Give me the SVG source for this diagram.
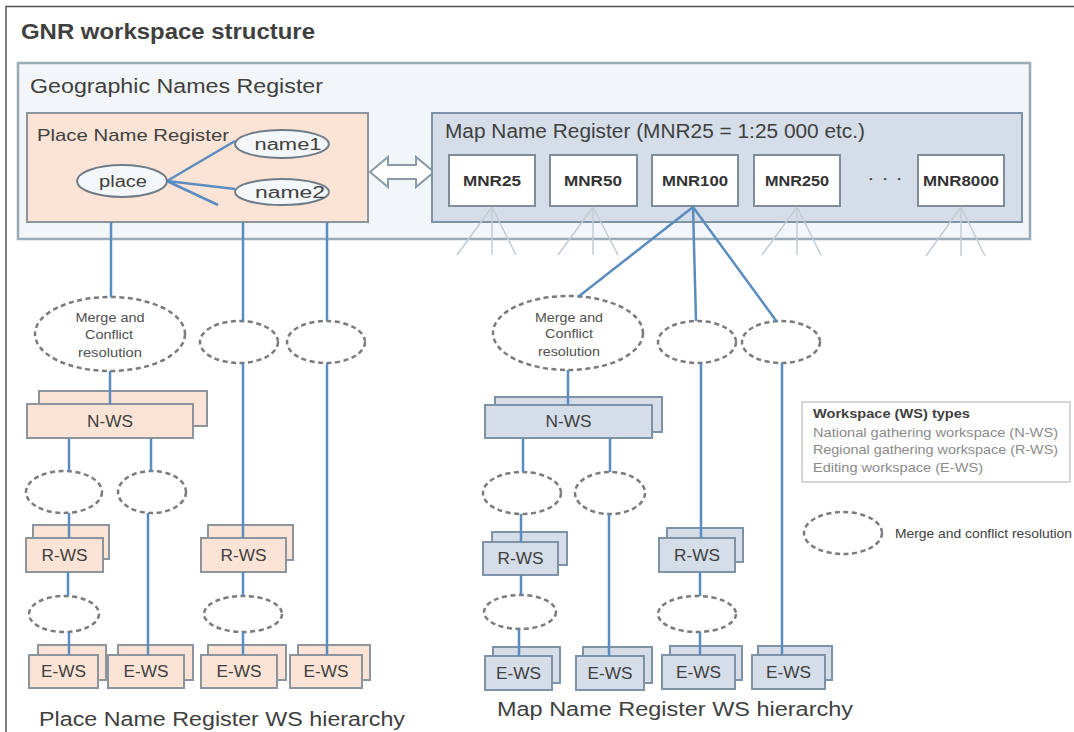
<svg xmlns="http://www.w3.org/2000/svg" width="1074" height="732" viewBox="0 0 1074 732">
<style>
.t{font-family:'Liberation Sans',Arial,sans-serif;fill:#404040}
.ln{stroke:#5b8cbf;stroke-width:2.5;fill:none}
.fan{stroke:#c3cbd3;stroke-width:1.5;fill:none}
.dash{fill:#ffffff;stroke:#7b7b7b;stroke-width:2.5;stroke-dasharray:5 3.5}
.pk{fill:#fbe4d5;stroke:#8c959d;stroke-width:2}
.bl{fill:#d5dde8;stroke:#7f93a6;stroke-width:2}
.mnr{fill:#ffffff;stroke:#7f8c99;stroke-width:2}
.ov{fill:#f4f7fa;stroke:#6f7c88;stroke-width:2}
.lbl{font-size:16px;text-anchor:middle}
.mc{font-size:13px;text-anchor:middle;fill:#505050}
.mn{font-size:15px;font-weight:bold;text-anchor:middle;fill:#333}
.lg{font-size:13px;fill:#8a8a8a}
</style>
<rect x="0" y="0" width="1074" height="732" fill="#ffffff"/>
<path d="M6 740 V6.5 H1074" fill="none" stroke="#555" stroke-width="1.5"/>
<text class="t" x="21" y="39" font-size="22" font-weight="bold" fill="#222" textLength="294" lengthAdjust="spacingAndGlyphs">GNR workspace structure</text>

<g id="gnr">
<rect x="18" y="63" width="1012" height="176" fill="#f3f6f9" stroke="#9aabb8" stroke-width="2.5"/>
<text class="t" x="30" y="93" font-size="20" textLength="293" lengthAdjust="spacingAndGlyphs">Geographic Names Register</text>
</g>

<g id="pnr">
<rect class="pk" x="27" y="113" width="341" height="109"/>
<text class="t" x="37" y="141" font-size="17" textLength="192" lengthAdjust="spacingAndGlyphs">Place Name Register</text>
<line x1="167" y1="181" x2="235" y2="141" class="ln" stroke-width="2"/>
<line x1="167" y1="181" x2="235" y2="189" class="ln" stroke-width="2"/>
<line x1="167" y1="181" x2="218" y2="205" class="ln" stroke-width="2"/>
</g>
<g id="place"><ellipse class="ov" cx="122" cy="181" rx="45" ry="16"/><text class="t lbl" x="123" y="187" font-size="17" textLength="48" lengthAdjust="spacingAndGlyphs">place</text></g>
<g id="name1"><ellipse class="ov" cx="282" cy="144" rx="47" ry="14"/><text class="t lbl" x="288" y="150" font-size="17" textLength="67" lengthAdjust="spacingAndGlyphs">name1</text></g>
<g id="name2"><ellipse class="ov" cx="282" cy="192" rx="47" ry="13"/><text class="t lbl" x="290" y="198" font-size="17" textLength="70" lengthAdjust="spacingAndGlyphs">name2</text></g>

<g id="arrow">
<polygon points="370,172 388,157 388,165 416,165 416,157 434,172 416,187 416,179 388,179 388,187" fill="#ffffff" stroke="#8a9aa8" stroke-width="2"/>
</g>

<g id="mnr">
<rect class="bl" x="432" y="113" width="590" height="109" fill="#d9dfe7"/>
<text class="t" x="445" y="138" font-size="20" textLength="420" lengthAdjust="spacingAndGlyphs">Map Name Register (MNR25 = 1:25 000 etc.)</text>
<text class="t" x="867" y="184" font-size="16" fill="#999" textLength="36" lengthAdjust="spacingAndGlyphs">· · ·</text>
</g>
<g id="mnr25"><rect class="mnr" x="449" y="155" width="86" height="51"/><text class="t mn" x="492" y="186" textLength="58" lengthAdjust="spacingAndGlyphs">MNR25</text></g>
<g id="mnr50"><rect class="mnr" x="550" y="155" width="87" height="51"/><text class="t mn" x="593" y="186" textLength="58" lengthAdjust="spacingAndGlyphs">MNR50</text></g>
<g id="mnr100"><rect class="mnr" x="652" y="155" width="86" height="51"/><text class="t mn" x="695" y="186" textLength="66" lengthAdjust="spacingAndGlyphs">MNR100</text></g>
<g id="mnr250"><rect class="mnr" x="754" y="155" width="86" height="51"/><text class="t mn" x="797" y="186" textLength="64" lengthAdjust="spacingAndGlyphs">MNR250</text></g>
<g id="mnr8000"><rect class="mnr" x="918" y="155" width="86" height="51"/><text class="t mn" x="961" y="186" textLength="76" lengthAdjust="spacingAndGlyphs">MNR8000</text></g>

<!-- Left hierarchy -->
<g id="l-merge"><ellipse class="dash" cx="110" cy="334" rx="75" ry="37"/>
<text class="t mc" x="110" y="322" textLength="69" lengthAdjust="spacingAndGlyphs">Merge and</text>
<text class="t mc" x="109" y="339" textLength="48" lengthAdjust="spacingAndGlyphs">Conflict</text>
<text class="t mc" x="110" y="357" textLength="64" lengthAdjust="spacingAndGlyphs">resolution</text></g>
<g id="l-m2"><ellipse class="dash" cx="239" cy="342" rx="39" ry="21"/></g>
<g id="l-m3"><ellipse class="dash" cx="326" cy="342" rx="39" ry="21"/></g>
<g id="l-nws"><rect class="pk" x="39" y="391" width="168" height="35"/><rect class="pk" x="27" y="404" width="166" height="34"/><text class="t lbl" x="110" y="427" textLength="46" lengthAdjust="spacingAndGlyphs">N-WS</text></g>
<g id="l-m4"><ellipse class="dash" cx="64" cy="492" rx="38" ry="21"/></g>
<g id="l-m5"><ellipse class="dash" cx="152" cy="492" rx="34" ry="21"/></g>
<g id="l-rws1"><rect class="pk" x="33" y="525" width="76" height="34"/><rect class="pk" x="26" y="538" width="77" height="34"/><text class="t lbl" x="64.5" y="561" textLength="46" lengthAdjust="spacingAndGlyphs">R-WS</text></g>
<g id="l-rws2"><rect class="pk" x="208" y="525" width="85" height="35"/><rect class="pk" x="201" y="538" width="85" height="34"/><text class="t lbl" x="243.5" y="561" textLength="46" lengthAdjust="spacingAndGlyphs">R-WS</text></g>
<g id="l-m6"><ellipse class="dash" cx="64" cy="614" rx="35" ry="18"/></g>
<g id="l-m7"><ellipse class="dash" cx="243" cy="614" rx="39" ry="18"/></g>
<g id="l-ews1"><rect class="pk" x="38" y="645" width="68" height="35"/><rect class="pk" x="29" y="655" width="69" height="33"/><text class="t lbl" x="63.5" y="677" textLength="45" lengthAdjust="spacingAndGlyphs">E-WS</text></g>
<g id="l-ews2"><rect class="pk" x="118" y="645" width="75" height="35"/><rect class="pk" x="108" y="655" width="76" height="33"/><text class="t lbl" x="146" y="677" textLength="45" lengthAdjust="spacingAndGlyphs">E-WS</text></g>
<g id="l-ews3"><rect class="pk" x="208" y="645" width="78" height="35"/><rect class="pk" x="201" y="655" width="76" height="33"/><text class="t lbl" x="239" y="677" textLength="45" lengthAdjust="spacingAndGlyphs">E-WS</text></g>
<g id="l-ews4"><rect class="pk" x="298" y="645" width="72" height="35"/><rect class="pk" x="290" y="655" width="72" height="33"/><text class="t lbl" x="326" y="677" textLength="45" lengthAdjust="spacingAndGlyphs">E-WS</text></g>
<text class="t" x="39" y="726" font-size="20" fill="#333" textLength="366" lengthAdjust="spacingAndGlyphs">Place Name Register WS hierarchy</text>

<!-- Right hierarchy -->
<g id="r-merge"><ellipse class="dash" cx="568" cy="333" rx="75" ry="37"/>
<text class="t mc" x="569" y="322" textLength="68" lengthAdjust="spacingAndGlyphs">Merge and</text>
<text class="t mc" x="569" y="338" textLength="48" lengthAdjust="spacingAndGlyphs">Conflict</text>
<text class="t mc" x="569" y="356" textLength="62" lengthAdjust="spacingAndGlyphs">resolution</text></g>
<g id="r-m2"><ellipse class="dash" cx="697" cy="342" rx="39" ry="21"/></g>
<g id="r-m3"><ellipse class="dash" cx="781" cy="342" rx="39" ry="21"/></g>
<g id="r-nws"><rect class="bl" x="495" y="397" width="167" height="35"/><rect class="bl" x="485" y="405" width="167" height="33"/><text class="t lbl" x="568.5" y="427" textLength="46" lengthAdjust="spacingAndGlyphs">N-WS</text></g>
<g id="r-m4"><ellipse class="dash" cx="522" cy="493" rx="39" ry="21"/></g>
<g id="r-m5"><ellipse class="dash" cx="610" cy="493" rx="35" ry="21"/></g>
<g id="r-rws1"><rect class="bl" x="492" y="532" width="75" height="33"/><rect class="bl" x="483" y="542" width="75" height="33"/><text class="t lbl" x="520.5" y="564" textLength="46" lengthAdjust="spacingAndGlyphs">R-WS</text></g>
<g id="r-rws2"><rect class="bl" x="667" y="528" width="76" height="34"/><rect class="bl" x="659" y="538" width="76" height="34"/><text class="t lbl" x="697" y="561" textLength="46" lengthAdjust="spacingAndGlyphs">R-WS</text></g>
<g id="r-m6"><ellipse class="dash" cx="520" cy="612" rx="36" ry="17"/></g>
<g id="r-m7"><ellipse class="dash" cx="697" cy="614" rx="39" ry="18"/></g>
<g id="r-ews1"><rect class="bl" x="493" y="647" width="67" height="36"/><rect class="bl" x="485" y="656" width="67" height="34"/><text class="t lbl" x="518.5" y="679" textLength="45" lengthAdjust="spacingAndGlyphs">E-WS</text></g>
<g id="r-ews2"><rect class="bl" x="583" y="647" width="69" height="36"/><rect class="bl" x="576" y="656" width="68" height="34"/><text class="t lbl" x="610" y="679" textLength="45" lengthAdjust="spacingAndGlyphs">E-WS</text></g>
<g id="r-ews3"><rect class="bl" x="670" y="646" width="72" height="34"/><rect class="bl" x="662" y="655" width="73" height="34"/><text class="t lbl" x="698.5" y="678" textLength="45" lengthAdjust="spacingAndGlyphs">E-WS</text></g>
<g id="r-ews4"><rect class="bl" x="758" y="646" width="74" height="34"/><rect class="bl" x="752" y="655" width="73" height="34"/><text class="t lbl" x="788.5" y="678" textLength="45" lengthAdjust="spacingAndGlyphs">E-WS</text></g>
<text class="t" x="497" y="716" font-size="20" fill="#333" textLength="356" lengthAdjust="spacingAndGlyphs">Map Name Register WS hierarchy</text>

<!-- Legend -->
<g id="legend">
<rect x="802" y="402" width="268" height="80" fill="#ffffff" stroke="#c8c8c8" stroke-width="1.5"/>
<text class="t" x="813" y="418" font-size="13" font-weight="bold" fill="#333" textLength="157" lengthAdjust="spacingAndGlyphs">Workspace (WS) types</text>
<text class="t lg" x="813" y="437" textLength="245" lengthAdjust="spacingAndGlyphs">National gathering workspace (N-WS)</text>
<text class="t lg" x="813" y="454" textLength="245" lengthAdjust="spacingAndGlyphs">Regional gathering workspace (R-WS)</text>
<text class="t lg" x="813" y="472" textLength="170" lengthAdjust="spacingAndGlyphs">Editing workspace (E-WS)</text>
</g>
<g id="legend-merge">
<ellipse class="dash" cx="843" cy="533" rx="39" ry="21"/>
<text class="t" x="895" y="538" font-size="13" fill="#666" textLength="177" lengthAdjust="spacingAndGlyphs">Merge and conflict resolution</text>
</g>

<g id="connectors">
<!-- faint fans -->
<path class="fan" d="M492 207 L457 255 M492 207 L492 255 M492 207 L516 255"/>
<path class="fan" d="M593 207 L558 255 M593 207 L593 255 M593 207 L618 255"/>
<path class="fan" d="M797 207 L762 255 M797 207 L797 255 M797 207 L821 255"/>
<path class="fan" d="M961 207 L926 256 M961 207 L961 256 M961 207 L985 256"/>
<!-- MNR100 -->
<path class="ln" d="M693 207 L578 297 M693 207 L696 321 M693 207 L777 322"/>
<!-- PNR -->
<path class="ln" d="M111 222 V297 M243 222 V321 M327 222 V321"/>
<!-- left -->
<path class="ln" d="M110 371 V404 M69 438 V471 M151 438 V471"/>
<path class="ln" d="M69 513 V538 M148 513 V655 M243 363 V538 M327 363 V655"/>
<path class="ln" d="M68 572 V596 M69 632 V655 M243 572 V596 M243 632 V655"/>
<!-- right -->
<path class="ln" d="M568 370 V405 M523 438 V472 M610 438 V472"/>
<path class="ln" d="M521 514 V542 M609 514 V656 M701 363 V538 M782 363 V655"/>
<path class="ln" d="M521 575 V595 M519 629 V656 M700 572 V596 M700 632 V655"/>
</g>
</svg>
